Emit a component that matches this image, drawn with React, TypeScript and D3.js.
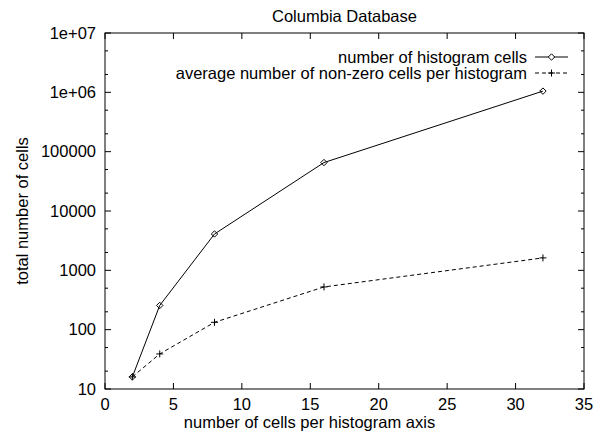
import React from 'react';
import * as d3 from 'd3';

const axisCells = [2, 4, 8, 16, 32];
const histogramCells = [16, 256, 4096, 65536, 1048576];
const nonZeroCells = [16, 39, 133, 525, 1620];
const xTicks = [0, 5, 10, 15, 20, 25, 30, 35];
const yTicks = [10, 100, 1000, 10000, 100000, 1e6, 1e7];
const yTickLabels = ['10', '100', '1000', '10000', '100000', '1e+06', '1e+07'];
const seriesNames = ['number of histogram cells', 'average number of non-zero cells per histogram'];

export default function App() {
    const width = 594, height = 432;
    const margin = { top: 33, right: 10, bottom: 43, left: 105 };
    const x = d3.scaleLinear().domain([0, 35]).range([margin.left, width - margin.right]);
    const y = d3.scaleLog().domain([10, 1e7]).range([height - margin.bottom, margin.top]);
    const [x0, x1] = x.range();
    const [y0, y1] = y.range();
    const font = "'Liberation Sans', Arial, Helvetica, sans-serif";
    const fs = 16.5;

    // minor log ticks at 2 and 5 of each decade
    const minor: number[] = [];
    yTicks.slice(0, -1).forEach(t => { minor.push(t * 2, t * 5); });

    const line = d3.line<[number, number]>().x(d => x(d[0])).y(d => y(d[1]));
    const s1 = axisCells.map((c, i) => [c, histogramCells[i]] as [number, number]);
    const s2 = axisCells.map((c, i) => [c, nonZeroCells[i]] as [number, number]);

    const diamond = (cx: number, cy: number, r = 3.2) =>
        `M${cx},${cy - r}L${cx + r},${cy}L${cx},${cy + r}L${cx - r},${cy}Z`;
    const plus = (cx: number, cy: number, r = 3.5) =>
        `M${cx - r},${cy}H${cx + r}M${cx},${cy - r}V${cy + r}`;

    const legX0 = 535, legX1 = 568, legMid = (legX0 + legX1) / 2;
    const legY = [57, 73];

    return (
        <svg width={width} height={height} style={{ position: 'absolute', left: 0, top: 0, background: '#fff' }}
            fontFamily={font} fontSize={fs}>
            <text x={(x0 + x1) / 2} y={22} textAnchor="middle">Columbia Database</text>

            {/* ticks */}
            {xTicks.map(t => (
                <g key={'x' + t}>
                    <line x1={x(t)} x2={x(t)} y1={y0} y2={y0 - 6} stroke="#000" />
                    <line x1={x(t)} x2={x(t)} y1={y1} y2={y1 + 6} stroke="#000" />
                    <text x={x(t)} y={410} textAnchor="middle">{t}</text>
                </g>
            ))}
            {yTicks.map((t, i) => (
                <g key={'y' + t}>
                    <line x1={x0} x2={x0 + 6} y1={y(t)} y2={y(t)} stroke="#000" />
                    <line x1={x1} x2={x1 - 6} y1={y(t)} y2={y(t)} stroke="#000" />
                    <text x={96} y={y(t)} dy="0.35em" textAnchor="end">{yTickLabels[i]}</text>
                </g>
            ))}
            {minor.map(t => (
                <g key={'m' + t}>
                    <line x1={x0} x2={x0 + 3} y1={y(t)} y2={y(t)} stroke="#000" />
                    <line x1={x1} x2={x1 - 3} y1={y(t)} y2={y(t)} stroke="#000" />
                </g>
            ))}
            <rect x={x0} y={y1} width={x1 - x0} height={y0 - y1} fill="none" stroke="#000" />

            <text x={(x0 + x1) / 2 - 35} y={428} textAnchor="middle">number of cells per histogram axis</text>
            <text transform={`translate(28,${(y0 + y1) / 2}) rotate(-90)`} textAnchor="middle">total number of cells</text>

            {/* series */}
            <path d={line(s1)!} fill="none" stroke="#000" strokeWidth={1} />
            {s1.map((d, i) => <path key={'d' + i} d={diamond(x(d[0]), y(d[1]))} fill="none" stroke="#000" />)}
            <path d={line(s2)!} fill="none" stroke="#000" strokeWidth={1} strokeDasharray="4,3" />
            {s2.map((d, i) => <path key={'p' + i} d={plus(x(d[0]), y(d[1]))} fill="none" stroke="#000" />)}

            {/* legend */}
            <text x={527} y={legY[0]} dy="0.35em" textAnchor="end">{seriesNames[0]}</text>
            <line x1={legX0} x2={legX1} y1={legY[0]} y2={legY[0]} stroke="#000" />
            <path d={diamond(legMid, legY[0])} fill="#fff" stroke="#000" />
            <text x={527} y={legY[1]} dy="0.35em" textAnchor="end">{seriesNames[1]}</text>
            <line x1={legX0} x2={legX1} y1={legY[1]} y2={legY[1]} stroke="#000" strokeDasharray="4,3" />
            <path d={plus(legMid, legY[1])} fill="none" stroke="#000" />
        </svg>
    );
}
